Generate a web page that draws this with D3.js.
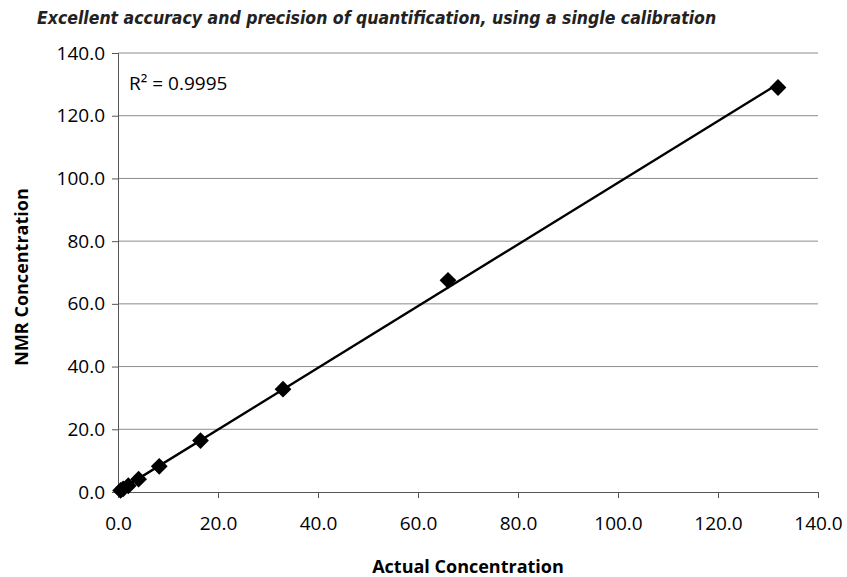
<!doctype html>
<html>
<head>
<script src="https://cdnjs.cloudflare.com/ajax/libs/d3/7.8.5/d3.min.js"></script>
<style>
body { margin: 0; background: #fff; }
text { fill: #000; }
.tick text { font-family: "Open Sans", sans-serif; font-size: 19px; }
.title { font-family: "Liberation Sans Narrow", "DejaVu Sans Condensed", sans-serif; font-stretch: condensed; font-weight: bold; font-style: italic; font-size: 17.5px; fill: #222; }
.axlabel { font-family: "Open Sans", sans-serif; font-weight: bold; font-size: 18px; }
.grid line { stroke: #8c8c8c; stroke-width: 1px; }
</style>
</head>
<body>
<svg width="847" height="577"></svg>
<script>
var actual = [0.52, 1.03, 2.06, 4.12, 8.25, 16.5, 33.0, 66.0, 132.0]
var nmr = [0.5, 1.0, 2.0, 4.1, 8.2, 16.4, 32.8, 67.5, 129.0]
var ticks = [0, 20, 40, 60, 80, 100, 120, 140]
var rSquared = "R\u00b2 = 0.9995"

var svg = d3.select("svg")
var pLeft = 118, pRight = 818, pTop = 53, pBottom = 492

var x = d3.scaleLinear().domain([0, 140]).range([pLeft, pRight])
var y = d3.scaleLinear().domain([0, 140]).range([pBottom, pTop])

// gridlines
svg.append("g").attr("class", "grid")
  .selectAll("line").data(ticks.slice(1)).enter().append("line")
  .attr("x1", pLeft).attr("x2", pRight)
  .attr("y1", d => y(d)).attr("y2", d => y(d))

svg.append("g").attr("transform", "translate(" + pLeft + ",0)")
  .call(d3.axisLeft(y).tickValues(ticks).tickFormat(d3.format(".1f")).tickSize(6).tickPadding(7))
svg.append("g").attr("transform", "translate(0," + pBottom + ")")
  .call(d3.axisBottom(x).tickValues(ticks).tickFormat(d3.format(".1f")).tickSize(6).tickPadding(19))
svg.selectAll(".domain").attr("stroke", "#555")
svg.selectAll(".tick line").attr("stroke", "#555")

// least squares trend line
var mx = d3.mean(actual), my = d3.mean(nmr)
var sxy = d3.sum(actual, (d, i) => (d - mx) * (nmr[i] - my))
var sxx = d3.sum(actual, d => (d - mx) * (d - mx))
var slope = sxy / sxx, icpt = my - slope * mx
var x0 = d3.min(actual), x1 = d3.max(actual)
svg.append("line")
  .attr("x1", x(x0)).attr("y1", y(slope * x0 + icpt))
  .attr("x2", x(x1)).attr("y2", y(slope * x1 + icpt))
  .attr("stroke", "#000").attr("stroke-width", 2.4)

svg.append("g").selectAll("path").data(actual).enter().append("path")
  .attr("d", d3.symbol().type(d3.symbolDiamond2).size(180))
  .attr("transform", (d, i) => "translate(" + x(d) + "," + y(nmr[i]) + ")")
  .attr("fill", "#000")

svg.append("text").attr("x", 129).attr("y", 90)
  .style("font-family", "Open Sans, sans-serif").style("font-size", "19px")
  .text(rSquared)

svg.append("text").attr("class", "title").attr("x", 37).attr("y", 24)
  .text("Excellent accuracy and precision of quantification, using a single calibration")

svg.append("text").attr("class", "axlabel").attr("x", 468).attr("y", 573)
  .attr("text-anchor", "middle").text("Actual Concentration")

svg.append("text").attr("class", "axlabel")
  .attr("transform", "translate(28,277) rotate(-90)")
  .attr("text-anchor", "middle").text("NMR Concentration")
</script>
</body>
</html>
